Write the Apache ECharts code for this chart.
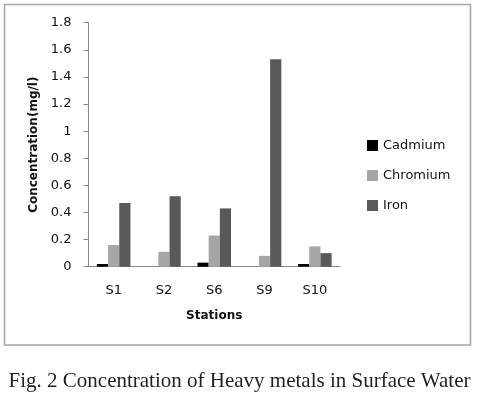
<!DOCTYPE html>
<html>
<head>
<meta charset="utf-8">
<script src="https://cdn.jsdelivr.net/npm/echarts@6/dist/echarts.min.js"></script>
<style>
html, body { margin: 0; padding: 0; background: #fff; }
#main { width: 479px; height: 397px; }
</style>
</head>
<body>
<div id="main"></div>
<script>
// data
var stations = ['S1', 'S2', 'S6', 'S9', 'S10'];
var cadmium = [0.02, 0, 0.03, 0, 0.02];
var chromium = [0.16, 0.11, 0.23, 0.08, 0.15];
var iron = [0.47, 0.52, 0.43, 1.53, 0.10];

var myChart = echarts.init(document.getElementById('main'));
var font = 'DejaVu Sans';

var options = {
    animation: false,
    backgroundColor: '#fff',
    textStyle: { fontFamily: font },
    grid: { left: 88.5, right: 139, top: 22.7, bottom: 130.3 },
    legend: {
        orient: 'vertical',
        left: 362,
        top: 134,
        itemWidth: 11,
        itemHeight: 11,
        itemGap: 17,
        icon: 'rect',
        textStyle: { fontFamily: font, fontSize: 13, color: '#111' },
        data: ['Cadmium', 'Chromium', 'Iron']
    },
    xAxis: [{
        type: 'category',
        data: stations,
        name: 'Stations',
        nameLocation: 'middle',
        nameGap: 43,
        nameTextStyle: { fontFamily: font, fontSize: 12, fontWeight: 'bold', color: '#111' },
        axisLine: { lineStyle: { color: '#868686', width: 1 } },
        axisTick: { show: false },
        axisLabel: { fontFamily: font, fontSize: 13, color: '#111', margin: 17 }
    }],
    yAxis: [{
        type: 'value',
        min: 0,
        max: 1.8,
        interval: 0.2,
        name: 'Concentration(mg/l)',
        nameLocation: 'middle',
        nameGap: 42,
        nameTextStyle: { fontFamily: font, fontSize: 12, fontWeight: 'bold', color: '#111' },
        axisLine: { show: true, lineStyle: { color: '#868686', width: 1 } },
        axisTick: { show: true, length: 5, lineStyle: { color: '#868686' } },
        axisLabel: { fontFamily: font, fontSize: 13, color: '#111', margin: 17 },
        splitLine: { show: false }
    }],
    series: [{
        name: 'Cadmium',
        type: 'bar',
        data: cadmium,
        barGap: '0%',
        barCategoryGap: '33.3%',
        itemStyle: { color: '#000000' }
    }, {
        name: 'Chromium',
        type: 'bar',
        data: chromium,
        itemStyle: { color: '#a6a6a6' }
    }, {
        name: 'Iron',
        type: 'bar',
        data: iron,
        itemStyle: { color: '#595959' }
    }],
    graphic: [{
        type: 'rect',
        shape: { x: 4.5, y: 4.5, width: 466, height: 340.5 },
        style: { fill: 'none', stroke: '#a6a6a6', lineWidth: 1.5 },
        silent: true
    }, {
        type: 'text',
        left: 'center',
        top: 371,
        style: {
            text: 'Fig. 2 Concentration of Heavy metals in Surface Water',
            fontFamily: 'Liberation Serif',
            fontSize: 21,
            fill: '#231f20'
        }
    }]
};
myChart.setOption(options);
</script>
</body>
</html>
